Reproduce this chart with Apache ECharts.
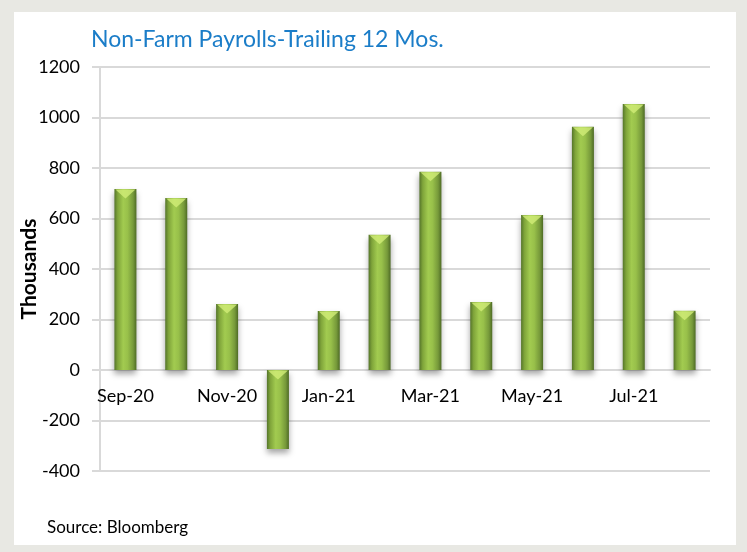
<!DOCTYPE html>
<html>
<head>
    <meta charset="utf-8">
    <script src="https://cdn.jsdelivr.net/npm/echarts@6/dist/echarts.min.js"></script>
    <style>
        body { margin: 0; background: #e8e8e3; }
        #panel { position: absolute; left: 14px; top: 12px; width: 722px; height: 533px; background: #fff; }
        #main { position: absolute; left: 0; top: 0; width: 747px; height: 552px; }
    </style>
</head>
<body>
    <div id="panel"></div>
    <div id="main"></div>
    <script type="text/javascript">
        var months = ['Sep-20', 'Oct-20', 'Nov-20', 'Dec-20', 'Jan-21', 'Feb-21',
                      'Mar-21', 'Apr-21', 'May-21', 'Jun-21', 'Jul-21', 'Aug-21'];
        var payrolls = [717, 681, 261, -313, 234, 536, 785, 269, 614, 963, 1053, 235];

        var font = 'Lato';
        var gridGray = '#d9d9d9';

        // light bevel on top of each bar
        var caps = payrolls.map(function (v) { return Math.max(v, 0); });

        var myChart = echarts.init(document.getElementById('main'));
        var option = {
            backgroundColor: 'transparent',
            animation: false,
            title: {
                text: 'Non-Farm Payrolls-Trailing 12 Mos.',
                left: 86,
                top: 23,
                textStyle: { color: '#1b7dc8', fontFamily: font, fontSize: 23, fontWeight: 'normal' }
            },
            grid: { left: 100, right: 37, top: 67, bottom: 81 },
            xAxis: {
                type: 'category',
                data: months,
                offset: -101,
                axisLine: { onZero: false, lineStyle: { color: gridGray, width: 2 } },
                axisTick: { interval: 1, length: 6, lineStyle: { color: gridGray, width: 2 } },
                axisLabel: { interval: 1, margin: 17, color: '#000', fontFamily: font, fontSize: 18 }
            },
            yAxis: {
                type: 'value',
                min: -400,
                max: 1200,
                interval: 200,
                name: 'Thousands',
                nameLocation: 'middle',
                nameGap: 60,
                nameMoveOverlap: false,
                nameTextStyle: { color: '#000', fontFamily: font, fontSize: 21, fontWeight: 'bold' },
                axisLine: { show: true, lineStyle: { color: gridGray, width: 2 } },
                axisTick: { show: true, length: 8, lineStyle: { color: gridGray, width: 2 } },
                axisLabel: {
                    margin: 20, color: '#000', fontFamily: font, fontSize: 18,
                    formatter: function (v) { return String(v); }
                },
                splitLine: { lineStyle: { color: gridGray, width: 2 } }
            },
            graphic: [{
                type: 'text',
                left: 47,
                top: 519,
                style: { text: 'Source: Bloomberg', fill: '#000', font: '17px ' + font }
            }],
            series: [{
                type: 'bar',
                data: payrolls,
                barWidth: 22,
                itemStyle: {
                    color: new echarts.graphic.LinearGradient(0, 0, 1, 0, [
                        { offset: 0, color: '#55752a' },
                        { offset: 0.15, color: '#7fa43a' },
                        { offset: 0.4, color: '#a2cb50' },
                        { offset: 0.6, color: '#98c04a' },
                        { offset: 0.85, color: '#76993a' },
                        { offset: 1, color: '#4e6b25' }
                    ]),
                    shadowColor: 'rgba(0,0,0,0.35)',
                    shadowBlur: 6,
                    shadowOffsetY: 4
                }
            }, {
                type: 'scatter',
                data: caps,
                symbol: 'triangle',
                symbolRotate: 180,
                symbolSize: [20, 9],
                symbolOffset: [0, 5],
                itemStyle: { color: '#d2ee78' },
                z: 5
            }]
        };
        myChart.setOption(option);
    </script>
</body>
</html>
